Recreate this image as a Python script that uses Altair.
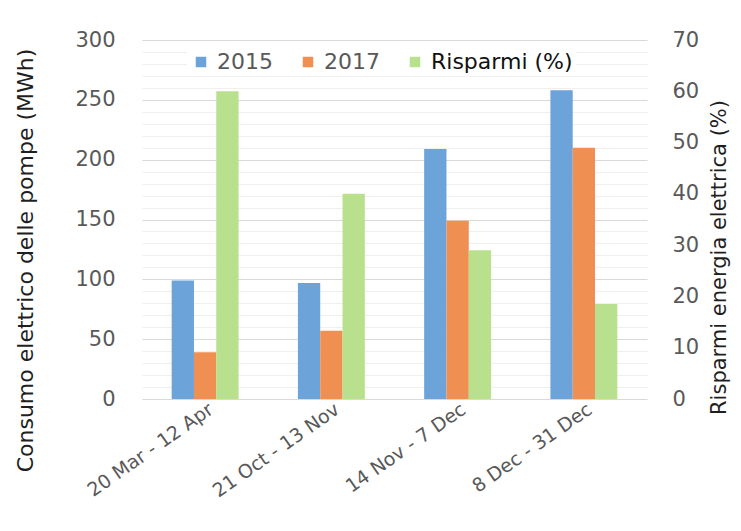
import altair as alt
import pandas as pd

periods = ["20 Mar - 12 Apr", "21 Oct - 13 Nov", "14 Nov - 7 Dec", "8 Dec - 31 Dec"]
consumo_2015 = [99, 97, 209, 258]
consumo_2017 = [39, 57, 149, 210]
risparmi = [60, 40, 29, 18.5]
series = ["2015", "2017", "Risparmi (%)"]
colors = ["#6CA3D8", "#EF9052", "#B8E08D"]
left_ticks = list(range(0, 301, 10))
right_ticks = list(range(0, 71, 10))

cons = pd.DataFrame({
    "periodo": periods * 2,
    "serie": ["2015"] * len(periods) + ["2017"] * len(periods),
    "valore": consumo_2015 + consumo_2017,
})
sav = pd.DataFrame({
    "periodo": periods,
    "serie": ["Risparmi (%)"] * len(periods),
    "valore": risparmi,
})

FONT = "DejaVu Sans"
GRAY = "#595959"

x = alt.X(
    "periodo:N",
    sort=periods,
    scale=alt.Scale(paddingInner=0.47, paddingOuter=0.235),
    axis=alt.Axis(
        title=None, labelAngle=325, labelFontSize=19, labelColor=GRAY, labelFont=FONT,
        domain=False, ticks=False, labelPadding=8, labelAlign="right",
        labelBaseline="middle", labelOffset=6,
    ),
)
xo = alt.XOffset("serie:N", scale=alt.Scale(domain=series, paddingInner=0, paddingOuter=0))
color = alt.Color(
    "serie:N",
    scale=alt.Scale(domain=series, range=colors),
    legend=alt.Legend(
        title=None, orient="none", legendX=45, legendY=8, direction="horizontal",
        symbolType="square", symbolSize=110, symbolStrokeWidth=0,
        labelFontSize=22, labelFont=FONT,
        labelColor={"expr": "datum.value === 'Risparmi (%)' ? '#111111' : '#595959'"},
        columnPadding=24,
        fillColor="white", padding=3, labelOffset=5,
    ),
)

left = alt.Chart(cons).mark_bar().encode(
    x=x,
    xOffset=xo,
    color=color,
    y=alt.Y(
        "valore:Q",
        scale=alt.Scale(domain=[0, 300], nice=False),
        axis=alt.Axis(
            values=left_ticks,
            labelExpr="datum.value % 50 === 0 ? datum.label : ''",
            gridColor={"condition": {"test": "datum.value % 50 === 0", "value": "#D9D9D9"}, "value": "#EFEFEF"},
            gridWidth=1.2,
            domain=False, ticks=False, labelPadding=27, labelFontSize=21,
            labelColor=GRAY, labelFont=FONT,
            title="Consumo elettrico delle pompe (MWh)", titleFontSize=22,
            titleFont=FONT, titleColor="#1f1f1f", titleFontWeight="normal",
            titleAngle=270, titleX=-117, titleY=220, titleAlign="center",
            titleBaseline="middle",
        ),
    ),
)

right = alt.Chart(sav).mark_bar().encode(
    x=x,
    xOffset=xo,
    color=color,
    y=alt.Y(
        "valore:Q",
        scale=alt.Scale(domain=[0, 70], nice=False),
        axis=alt.Axis(
            orient="right", values=right_ticks, grid=False,
            domain=False, ticks=False, labelPadding=25, labelFontSize=21,
            labelColor=GRAY, labelFont=FONT,
            title="Risparmi energia elettrica (%)", titleFontSize=21,
            titleFont=FONT, titleColor="#1f1f1f", titleFontWeight="normal",
            titleAngle=270, titleX=72, titleY=217, titleAlign="center",
            titleBaseline="middle",
        ),
    ),
)

chart = (
    alt.layer(left, right)
    .resolve_scale(y="independent")
    .properties(
        width=505, height=359,
        autosize=alt.AutoSizeParams(type="none"),
        padding={"left": 134, "top": 32, "right": 86, "bottom": 118},
    )
    .configure_view(stroke=None)
)

chart.save("out.html", embed_options={"renderer": "svg", "actions": False})
